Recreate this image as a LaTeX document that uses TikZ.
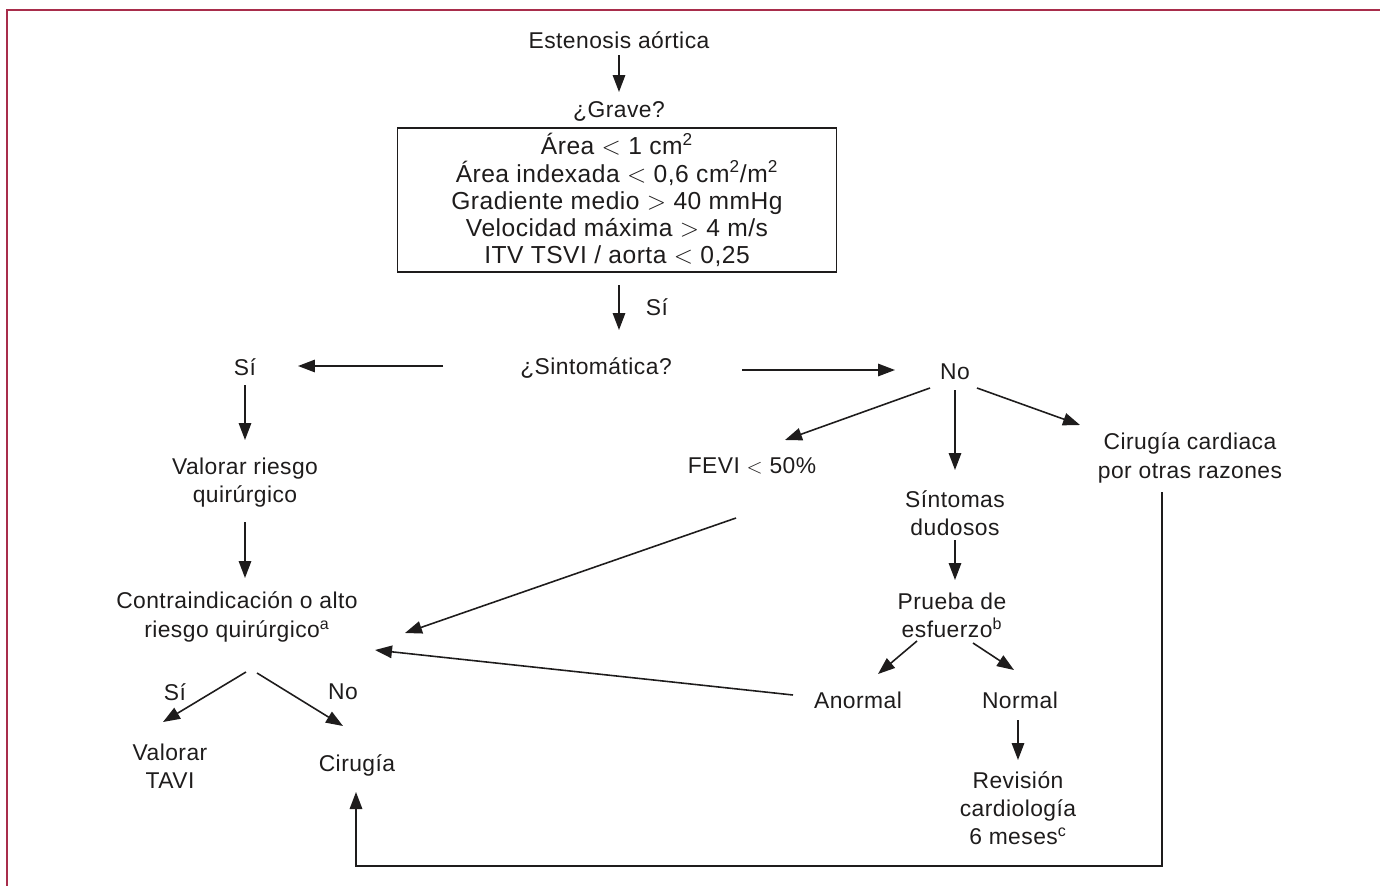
\documentclass[tikz,border=0pt]{standalone}
\usepackage{fontspec}
\setmainfont{Liberation Sans}[LetterSpace=2]
\usetikzlibrary{arrows.meta}
\definecolor{framered}{RGB}{168,45,75}
\definecolor{ink}{RGB}{30,28,28}

\begin{document}
\begin{tikzpicture}[x=0.02cm, y=-0.02cm, font=\fontsize{13}{16}\selectfont, line width=0.9pt, color=ink]
\tikzstyle{txt}=[align=center, inner sep=2pt]
\tikzstyle{arr}=[-{Triangle[length=0.34cm,width=0.25cm]}]
\useasboundingbox (0,0) rectangle (1380,886);
\draw[framered, line width=1.3pt] (7,886) -- (7,10) -- (1380,10);
% centre column
\node[txt] (ea) at (619,40) {Estenosis aórtica};
\node[txt] (grave) at (619,111) {¿Grave?};
\node[draw, align=center, minimum width=8.78cm, minimum height=2.88cm, font=\fontsize{14}{15.4}\selectfont] (crit) at (617,200)
  {Área $<$ 1 cm\textsuperscript{2}\\Área indexada $<$ 0,6 cm\textsuperscript{2}/m\textsuperscript{2}\\Gradiente medio $>$ 40 mmHg\\Velocidad máxima $>$ 4 m/s\\ITV TSVI / aorta $<$ 0,25};
\node[txt] (sint) at (596,368) {¿Sintomática?};
% left branch
\node[txt] (si) at (245,367) {Sí};
\node[txt] (riesgo) at (245,483) {Valorar riesgo\\quirúrgico};
\node[txt] (contra) at (237,617) {Contraindicación o alto\\riesgo quirúrgico\textsuperscript{a}};
\node[txt] (tavi) at (170,766) {Valorar\\TAVI};
\node[txt] (cirugia) at (357,765) {Cirugía};
% right branch
\node[txt] (no) at (955,372) {No};
\node[txt] (fevi) at (752,466) {FEVI $<$ 50\%};
\node[txt] (dudosos) at (955,513) {Síntomas\\dudosos};
\node[txt] (otras) at (1190,458) {Cirugía cardiaca\\por otras razones};
\node[txt] (prueba) at (952,615) {Prueba de\\esfuerzo\textsuperscript{b}};
\node[txt] (anormal) at (858,700) {Anormal};
\node[txt] (normal) at (1020,700) {Normal};
\node[txt] (revision) at (1018,808) {Revisión\\cardiología\\6 meses\textsuperscript{c}};
\coordinate (vuelta) at (356,866);

\draw[arr] ([shift={(0,15)}]ea.center) -- ([shift={(0,-19)}]grave.center);
\draw[arr] ([shift={(2,85)}]crit.center) -- node[midway, xshift=0.76cm]{Sí} ([shift={(23,-38)}]sint.center);
\draw[arr] ([shift={(-153,-2)}]sint.center) -- ([shift={(53,-1)}]si.center);
\draw[arr] ([shift={(146,2)}]sint.center) -- ([shift={(-60,-2)}]no.center);
\draw[arr] ([shift={(0,18)}]si.center) -- ([shift={(0,-43)}]riesgo.center);
\draw[arr] ([shift={(0,39)}]riesgo.center) -- ([shift={(8,-39)}]contra.center);
\draw[arr] ([shift={(9,55)}]contra.center) -- node[midway, xshift=-0.59cm, yshift=0.1cm]{Sí} ([shift={(-7,-44)}]tavi.center);
\draw[arr] ([shift={(20,56)}]contra.center) -- node[midway, xshift=0.86cm, yshift=0.15cm]{No} ([shift={(-14,-39)}]cirugia.center);
\draw[arr] ([shift={(-25,16)}]no.center) -- ([shift={(33,-26)}]fevi.center);
\draw[arr] ([shift={(0,18)}]no.center) -- ([shift={(0,-43)}]dudosos.center);
\draw[arr] ([shift={(22,16)}]no.center) -- ([shift={(-110,-33)}]otras.center);
\draw[arr] ([shift={(-16,52)}]fevi.center) -- ([shift={(168,16)}]contra.center);
\draw[arr] ([shift={(0,27)}]dudosos.center) -- ([shift={(3,-35)}]prueba.center);
\draw[arr] ([shift={(-35,26)}]prueba.center) -- ([shift={(20,-26)}]anormal.center);
\draw[arr] ([shift={(21,28)}]prueba.center) -- ([shift={(-6,-30)}]normal.center);
\draw[arr] ([shift={(-65,-5)}]anormal.center) -- ([shift={(138,33)}]contra.center);
\draw[arr] ([shift={(-2,20)}]normal.center) -- ([shift={(0,-48)}]revision.center);
\draw[arr] ([shift={(-28,34)}]otras.center) |- (vuelta) -- ([shift={(-1,27)}]cirugia.center);
\end{tikzpicture}
\end{document}
